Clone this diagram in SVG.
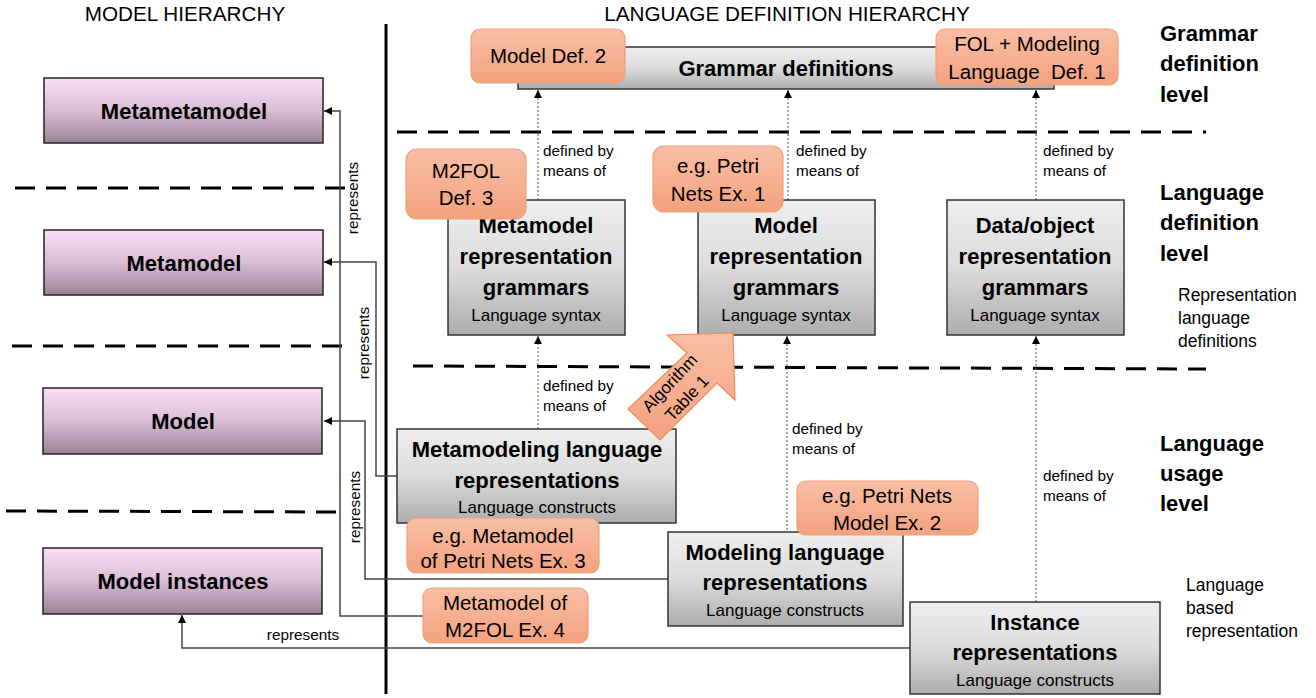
<svg xmlns="http://www.w3.org/2000/svg" width="1316" height="698" viewBox="0 0 1316 698">
<style>
text{font-family:"Liberation Sans",Arial,sans-serif;fill:#000}
.title{font-size:20.7px}
.b{font-weight:bold;font-size:22px}
.sub{font-size:17px}
.lab{font-size:15.3px}
.ol{font-size:20.5px}
.lvl{font-weight:bold;font-size:22px}
.side{font-size:17.5px}
.pur{fill:url(#gp);stroke:#222;stroke-width:1.5}
.gry{fill:url(#gg);stroke:#333;stroke-width:1.5}
.org{fill:url(#go);stroke:#f0a07a;stroke-width:1.2}
.dash{stroke:#000;stroke-width:3;stroke-dasharray:20 11;fill:none}
.dot{stroke:#555;stroke-width:1;stroke-dasharray:2 2;fill:none}
.rep{stroke:#444;stroke-width:1.5;fill:none}
</style>
<defs>
<linearGradient id="gp" x1="0" y1="0" x2="0" y2="1"><stop offset="0" stop-color="#fbdef8"/><stop offset="0.5" stop-color="#d9bcd5"/><stop offset="1" stop-color="#9a8396"/></linearGradient>
<linearGradient id="gg" x1="0" y1="0" x2="0" y2="1"><stop offset="0" stop-color="#eeeeee"/><stop offset="0.5" stop-color="#dcdcdc"/><stop offset="1" stop-color="#adadad"/></linearGradient>
<linearGradient id="go" x1="0" y1="0" x2="0" y2="1"><stop offset="0" stop-color="#f8bea5"/><stop offset="1" stop-color="#f4a27e"/></linearGradient>
<marker id="ah" viewBox="0 0 10 10" refX="10" refY="5" markerWidth="8" markerHeight="8" markerUnits="userSpaceOnUse" orient="auto"><path d="M0,0 L10,5 L0,10 z" fill="#000"/></marker>
</defs>
<rect width="1316" height="698" fill="#fff"/>

<text class="title" x="185" y="21" text-anchor="middle">MODEL HIERARCHY</text>
<text class="title" x="787" y="21" text-anchor="middle">LANGUAGE DEFINITION HIERARCHY</text>

<!-- separators -->
<g id="separators">
<line x1="386" y1="24" x2="386" y2="694" stroke="#000" stroke-width="3"/>
<line class="dash" x1="15" y1="188" x2="345" y2="188"/>
<line class="dash" x1="12" y1="346" x2="345" y2="346"/>
<line class="dash" x1="6" y1="511" x2="340" y2="512"/>
<line class="dash" x1="397" y1="132" x2="1206" y2="132"/>
<line class="dash" x1="413" y1="366" x2="1206" y2="369"/>
</g>

<!-- connectors -->
<g id="connectors">
<polyline class="rep" points="423,616 340,616 340,111 324,111" marker-end="url(#ah)"/>
<polyline class="rep" points="397,476 376,476 376,262 324,262" marker-end="url(#ah)"/>
<polyline class="rep" points="668,579 365,579 365,421 324,421" marker-end="url(#ah)"/>
<polyline class="rep" points="910,648 182,648 182,615" marker-end="url(#ah)"/>
<text class="lab" transform="translate(358,198) rotate(-90)" text-anchor="middle">represents</text>
<text class="lab" transform="translate(369,343) rotate(-90)" text-anchor="middle">represents</text>
<text class="lab" transform="translate(360,507) rotate(-90)" text-anchor="middle">represents</text>
<text class="lab" x="303" y="640" text-anchor="middle">represents</text>

<line class="dot" x1="538" y1="200" x2="538" y2="90" marker-end="url(#ah)"/>
<line class="dot" x1="788" y1="200" x2="788" y2="90" marker-end="url(#ah)"/>
<line class="dot" x1="1036" y1="200" x2="1036" y2="90" marker-end="url(#ah)"/>
<line class="dot" x1="538" y1="429" x2="538" y2="336" marker-end="url(#ah)"/>
<line class="dot" x1="787" y1="542" x2="787" y2="336" marker-end="url(#ah)"/>
<line class="dot" x1="1036" y1="602" x2="1036" y2="336" marker-end="url(#ah)"/>
<text class="lab" x="543" y="156">defined by</text><text class="lab" x="543" y="176">means of</text>
<text class="lab" x="796" y="156">defined by</text><text class="lab" x="796" y="176">means of</text>
<text class="lab" x="1043" y="156">defined by</text><text class="lab" x="1043" y="176">means of</text>
<text class="lab" x="543" y="391">defined by</text><text class="lab" x="543" y="411">means of</text>
<text class="lab" x="792" y="434">defined by</text><text class="lab" x="792" y="454">means of</text>
<text class="lab" x="1043" y="481">defined by</text><text class="lab" x="1043" y="501">means of</text>
</g>

<!-- model hierarchy nodes -->
<g id="metametamodel"><rect class="pur" x="44" y="78" width="279" height="65"/><text class="b" x="184" y="119" text-anchor="middle">Metametamodel</text></g>
<g id="metamodel"><rect class="pur" x="44" y="230" width="279" height="65"/><text class="b" x="184" y="271" text-anchor="middle">Metamodel</text></g>
<g id="model"><rect class="pur" x="43" y="388" width="279" height="66"/><text class="b" x="183" y="429" text-anchor="middle">Model</text></g>
<g id="model-instances"><rect class="pur" x="43" y="548" width="279" height="66"/><text class="b" x="183" y="589" text-anchor="middle">Model instances</text></g>

<!-- language definition nodes -->
<g id="grammar-definitions"><rect class="gry" x="518" y="47" width="536" height="42"/><text class="b" x="786" y="76" text-anchor="middle">Grammar definitions</text></g>
<g id="model-def-2"><rect class="org" x="471" y="29" width="154" height="54" rx="9"/><text class="ol" x="548" y="63" text-anchor="middle">Model Def. 2</text></g>
<g id="fol-def-1"><rect class="org" x="936" y="29" width="182" height="56" rx="9"/><text class="ol" x="1027" y="51" text-anchor="middle">FOL + Modeling</text><text class="ol" x="1027" y="79" text-anchor="middle">Language&#160; Def. 1</text></g>

<g id="metamodel-repr-grammars"><rect class="gry" x="448" y="200" width="177" height="135"/>
<text class="b" x="536" y="233" text-anchor="middle">Metamodel</text><text class="b" x="536" y="264" text-anchor="middle">representation</text><text class="b" x="536" y="295" text-anchor="middle">grammars</text><text class="sub" x="536" y="321" text-anchor="middle">Language syntax</text></g>
<g id="m2fol-def-3"><rect class="org" x="406" y="149" width="120" height="70" rx="11"/><text class="ol" x="466" y="178" text-anchor="middle">M2FOL</text><text class="ol" x="466" y="205" text-anchor="middle">Def. 3</text></g>

<g id="model-repr-grammars"><rect class="gry" x="698" y="200" width="177" height="135"/>
<text class="b" x="786" y="233" text-anchor="middle">Model</text><text class="b" x="786" y="264" text-anchor="middle">representation</text><text class="b" x="786" y="295" text-anchor="middle">grammars</text><text class="sub" x="786" y="321" text-anchor="middle">Language syntax</text></g>
<g id="petri-ex-1"><rect class="org" x="653" y="146" width="130" height="66" rx="11"/><text class="ol" x="718" y="173" text-anchor="middle">e.g. Petri</text><text class="ol" x="718" y="201" text-anchor="middle">Nets Ex. 1</text></g>

<g id="data-repr-grammars"><rect class="gry" x="947" y="200" width="177" height="135"/>
<text class="b" x="1035" y="233" text-anchor="middle">Data/object</text><text class="b" x="1035" y="264" text-anchor="middle">representation</text><text class="b" x="1035" y="295" text-anchor="middle">grammars</text><text class="sub" x="1035" y="321" text-anchor="middle">Language syntax</text></g>

<g id="metamodeling-lang-repr"><rect class="gry" x="397" y="429" width="279" height="94"/>
<text class="b" x="537" y="457" text-anchor="middle">Metamodeling language</text><text class="b" x="537" y="488" text-anchor="middle">representations</text><text class="sub" x="537" y="513" text-anchor="middle">Language constructs</text></g>

<g id="algorithm-table-1"><polygon points="628,409 687,353 667,335 733,333 735,400 717,383 660,440" fill="url(#go)" stroke="#f08c5c" stroke-width="1.2"/>
<text style="font-size:17px" transform="translate(674,387) rotate(-47)" text-anchor="middle">Algorithm</text>
<text style="font-size:17px" transform="translate(691,402) rotate(-47)" text-anchor="middle">Table 1</text></g>

<g id="petri-ex-3"><rect class="org" x="407" y="518" width="192" height="55" rx="9"/><text class="ol" x="503" y="543" text-anchor="middle">e.g. Metamodel</text><text class="ol" x="503" y="568" text-anchor="middle">of Petri Nets Ex. 3</text></g>
<g id="m2fol-ex-4"><rect class="org" x="423" y="588" width="165" height="55" rx="9"/><text class="ol" x="505" y="610" text-anchor="middle">Metamodel of</text><text class="ol" x="505" y="637" text-anchor="middle">M2FOL Ex. 4</text></g>

<g id="modeling-lang-repr"><rect class="gry" x="668" y="532" width="235" height="94"/>
<text class="b" x="785" y="560" text-anchor="middle">Modeling language</text><text class="b" x="785" y="590" text-anchor="middle">representations</text><text class="sub" x="785" y="616" text-anchor="middle">Language constructs</text></g>
<g id="petri-ex-2"><rect class="org" x="797" y="481" width="181" height="54" rx="9"/><text class="ol" x="887" y="503" text-anchor="middle">e.g. Petri Nets</text><text class="ol" x="887" y="530" text-anchor="middle">Model Ex. 2</text></g>

<g id="instance-repr"><rect class="gry" x="910" y="602" width="250" height="92"/>
<text class="b" x="1035" y="630" text-anchor="middle">Instance</text><text class="b" x="1035" y="660" text-anchor="middle">representations</text><text class="sub" x="1035" y="686" text-anchor="middle">Language constructs</text></g>

<!-- level labels -->
<g id="level-labels">
<text class="lvl" x="1160" y="41">Grammar</text><text class="lvl" x="1160" y="71">definition</text><text class="lvl" x="1160" y="102">level</text>
<text class="lvl" x="1160" y="200">Language</text><text class="lvl" x="1160" y="230">definition</text><text class="lvl" x="1160" y="261">level</text>
<text class="side" x="1178" y="301">Representation</text><text class="side" x="1178" y="324">language</text><text class="side" x="1178" y="347">definitions</text>
<text class="lvl" x="1160" y="451">Language</text><text class="lvl" x="1160" y="481">usage</text><text class="lvl" x="1160" y="511">level</text>
<text class="side" x="1186" y="591">Language</text><text class="side" x="1186" y="614">based</text><text class="side" x="1186" y="637">representation</text>
</g>
</svg>
